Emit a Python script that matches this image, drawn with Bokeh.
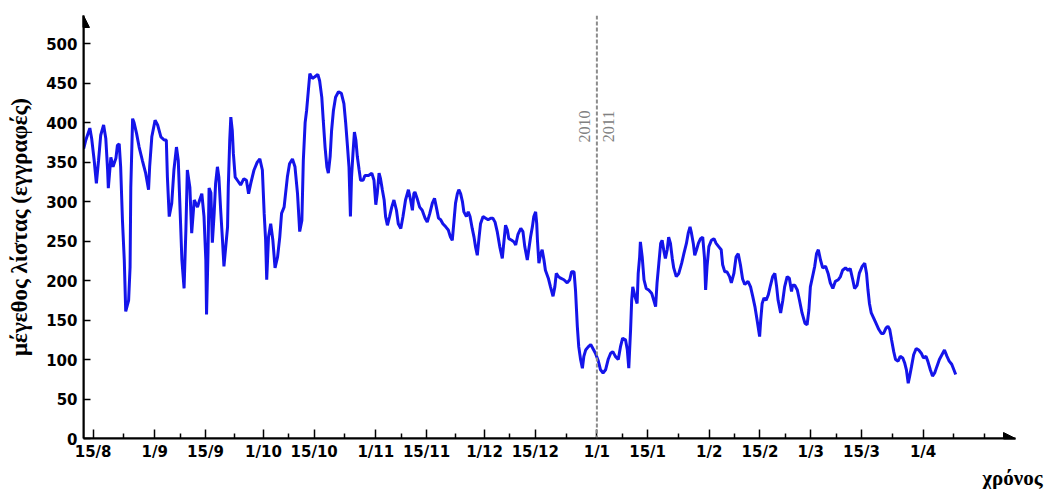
import numpy as np
import pandas as pd
from bokeh.plotting import figure
from bokeh.models import FixedTicker, Span, Label, Arrow, NormalHead, Range1d, Title
from bokeh.embed import file_html
from bokeh.resources import INLINE

START = pd.Timestamp("2010-08-15")

# days since 15 Aug 2010 and list size (records)
days = [
    -2.6, -2.0, -0.9, -0.4, 0.3, 0.9, 1.5, 2.1, 2.9, 3.5,
    4.0, 4.2, 4.9, 5.5, 6.3, 6.7, 7.2, 7.6, 8.1, 8.6,
    9.0, 9.8, 10.2, 10.4, 10.9, 11.3, 12.0, 12.7, 13.6, 14.5,
    15.3, 15.6, 16.2, 17.1, 17.8, 18.7, 19.6, 20.2, 20.5, 21.0,
    21.7, 22.3, 23.0, 23.5, 24.0, 24.5, 25.1, 25.6, 26.0, 26.7,
    27.2, 27.9, 28.8, 29.4, 30.0, 30.6, 31.1, 31.3, 31.7, 32.0,
    32.5, 32.9, 33.4, 33.8, 34.3, 34.7, 35.2, 35.7, 36.1, 36.6,
    37.1, 37.3, 37.7, 38.0, 38.4, 38.7, 39.2, 39.8, 40.7, 41.6,
    42.3, 42.9, 43.5, 44.4, 45.3, 46.0, 46.7, 47.2, 47.6, 47.9,
    48.4, 49.0, 49.6, 50.2, 50.9, 51.5, 52.0, 52.7, 53.1, 53.6,
    54.2, 55.0, 55.7, 56.4, 57.0, 57.6, 58.0, 58.5, 58.9, 59.4,
    59.8, 60.5, 61.2, 62.0, 62.5, 63.1, 63.5, 64.0, 64.5, 64.9,
    65.4, 65.8, 66.3, 66.9, 67.7, 68.5, 69.2, 69.7, 70.2, 70.6,
    71.0, 71.3, 71.7, 72.1, 72.5, 72.9, 73.4, 73.8, 74.5, 75.0,
    76.0, 76.9, 77.5, 78.0, 78.4, 78.9, 79.3, 79.8, 80.3, 80.7,
    81.2, 81.8, 82.4, 83.0, 83.7, 84.2, 84.9, 85.5, 86.2, 87.0,
    87.6, 88.1, 88.5, 88.8, 89.4, 90.1, 90.8, 91.6, 92.2, 92.9,
    93.6, 94.2, 94.7, 95.3, 95.9, 96.5, 97.3, 98.0, 98.6, 99.1,
    99.6, 100.0, 100.5, 100.9, 101.4, 101.9, 102.3, 103.0, 103.5, 104.0,
    104.6, 105.1, 105.5, 106.0, 106.5, 106.9, 107.6, 108.3, 109.0, 109.7,
    110.3, 110.9, 111.5, 112.2, 112.9, 113.3, 113.8, 114.3, 114.7, 115.5,
    116.1, 116.6, 117.2, 118.0, 118.6, 119.1, 119.8, 120.2, 120.7, 121.2,
    121.6, 122.1, 122.4, 122.6, 123.0, 123.5, 123.9, 124.4, 124.8, 125.6,
    126.2, 126.9, 127.4, 127.8, 128.4, 129.0, 129.9, 130.8, 131.5, 132.0,
    132.7, 133.1, 133.6, 134.0, 134.5, 135.0, 135.4, 135.9, 136.6, 137.3,
    137.9, 138.6, 139.4, 140.0, 140.7, 141.4, 142.1, 142.8, 143.4, 144.1,
    144.9, 145.5, 146.1, 146.9, 147.4, 147.8, 148.3, 148.6, 148.9, 149.5,
    150.1, 150.4, 150.8, 151.0, 151.5, 152.0, 152.6, 153.3, 154.1, 154.7,
    155.2, 155.6, 156.1, 156.6, 157.0, 157.5, 157.9, 158.4, 158.8, 159.3,
    159.8, 160.2, 160.9, 161.6, 162.4, 163.0, 163.7, 164.2, 164.7, 165.1,
    165.6, 166.0, 166.5, 167.0, 167.6, 168.2, 168.7, 169.0, 169.4, 169.9,
    170.6, 171.3, 171.9, 172.6, 173.3, 173.7, 174.3, 174.9, 175.6, 176.1,
    176.8, 177.4, 178.0, 178.6, 179.2, 179.8, 180.7, 181.4, 182.0, 182.6,
    183.2, 183.9, 184.2, 184.6, 185.1, 185.7, 186.3, 186.9, 187.5, 188.1,
    188.6, 189.0, 189.7, 190.3, 190.8, 191.5, 192.1, 192.7, 193.0, 193.6,
    194.3, 194.9, 195.6, 196.4, 197.0, 197.5, 197.9, 198.6, 199.1, 199.6,
    200.1, 200.7, 201.3, 202.1, 202.8, 203.4, 204.1, 204.8, 205.6, 206.2,
    206.8, 207.6, 208.3, 208.9, 209.6, 210.1, 210.8, 211.4, 212.2, 212.9,
    213.4, 213.8, 214.2, 214.7, 215.4, 216.0, 216.8, 217.5, 218.1, 218.8,
    219.3, 219.8, 220.3, 220.9, 221.4, 222.1, 222.7, 223.4, 223.9, 224.4,
    224.9, 225.3, 225.8, 226.4, 227.1, 227.8, 228.5, 229.1, 229.8, 230.3,
    231.0, 231.6, 232.2, 232.8, 233.5, 234.2, 234.9, 235.6, 236.2, 236.9,
    237.5, 238.0,
]
list_size = [
    367, 378, 393, 380, 352, 323, 352, 384, 397, 380,
    340, 317, 356, 344, 355, 371, 373, 344, 276, 226,
    161, 175, 217, 318, 405, 400, 386, 369, 352, 336,
    315, 344, 382, 403, 397, 382, 378, 378, 331, 281,
    298, 340, 369, 352, 289, 226, 190, 264, 340, 318,
    260, 302, 293, 302, 310, 281, 226, 157, 235, 317,
    311, 248, 285, 323, 344, 331, 289, 251, 218, 243,
    268, 319, 378, 407, 390, 361, 331, 327, 321, 329,
    327, 310, 323, 340, 350, 354, 340, 285, 251, 201,
    255, 272, 251, 216, 230, 255, 285, 293, 310, 331,
    348, 354, 344, 310, 262, 276, 352, 400, 415, 441,
    462, 456, 458, 461, 453, 432, 403, 369, 344, 336,
    357, 390, 415, 432, 439, 437, 424, 399, 369, 344,
    281, 331, 361, 388, 378, 357, 340, 327, 327, 333,
    333, 336, 327, 296, 310, 336, 329, 315, 302, 281,
    270, 281, 293, 302, 289, 272, 266, 281, 302, 315,
    302, 289, 310, 312, 304, 293, 289, 279, 274, 285,
    298, 304, 293, 279, 277, 272, 268, 264, 255, 251,
    277, 298, 310, 315, 310, 300, 287, 281, 287, 281,
    266, 255, 243, 232, 255, 272, 281, 279, 277, 279,
    279, 274, 262, 243, 228, 247, 270, 264, 253, 251,
    249, 245, 258, 266, 262, 243, 226, 239, 255, 268,
    281, 287, 272, 251, 222, 234, 239, 226, 213, 203,
    192, 180, 192, 209, 205, 203, 201, 197, 201, 211,
    211, 188, 142, 116, 100, 89, 104, 112, 116, 119,
    114, 108, 98, 87, 83, 87, 100, 108, 110, 104,
    100, 116, 127, 125, 112, 89, 138, 175, 192, 180,
    171, 209, 230, 249, 230, 201, 190, 188, 184, 175,
    167, 197, 222, 247, 251, 237, 228, 239, 255, 247,
    228, 216, 205, 209, 222, 234, 247, 260, 268, 260,
    247, 232, 239, 247, 253, 255, 228, 188, 218, 243,
    251, 253, 247, 243, 239, 220, 211, 211, 205, 197,
    209, 230, 234, 220, 202, 195, 199, 192, 180, 167,
    150, 129, 150, 171, 178, 175, 182, 194, 205, 209,
    192, 175, 159, 175, 192, 205, 203, 186, 194, 194,
    188, 175, 159, 146, 144, 163, 192, 207, 218, 234,
    239, 226, 216, 218, 209, 197, 190, 199, 201, 205,
    213, 216, 213, 215, 201, 190, 194, 209, 218, 222,
    209, 188, 171, 159, 152, 146, 138, 133, 133, 140,
    142, 138, 125, 110, 100, 98, 104, 102, 96, 87,
    70, 79, 91, 106, 114, 112, 108, 102, 104, 98,
    87, 79, 83, 91, 100, 106, 112, 104, 98, 94,
    87, 81,
]
assert len(days) == len(list_size), (len(days), len(list_size))

tick_dates = ["2010-08-15", "2010-09-01", "2010-09-15", "2010-10-01", "2010-10-15",
              "2010-11-01", "2010-11-15", "2010-12-01", "2010-12-15", "2011-01-01",
              "2011-01-15", "2011-02-01", "2011-02-15", "2011-03-01", "2011-03-15",
              "2011-04-01"]
tick_labels = ["15/8", "1/9", "15/9", "1/10", "15/10", "1/11", "15/11", "1/12",
               "15/12", "1/1", "15/1", "1/2", "15/2", "1/3", "15/3", "1/4"]
extra_minor_days = [237.5, 246.0]
y_ticks = [0, 50, 100, 150, 200, 250, 300, 350, 400, 450, 500]
year_change = "2011-01-01"
year_labels = ["2010", "2011"]

tick_days = [(pd.Timestamp(d) - START).days for d in tick_dates]
minor_days = [(a + b) / 2 for a, b in zip(tick_days[:-1], tick_days[1:])] + extra_minor_days
change_day = (pd.Timestamp(year_change) - START).days

X0, X1 = -2.65, 254.5
Y0, Y1 = 0, 535.6

p = figure(width=1048, height=489, x_range=Range1d(X0, X1), y_range=Range1d(Y0, Y1),
           output_backend="svg", toolbar_location=None,
           min_border_left=83, min_border_right=33, min_border_top=15, min_border_bottom=50)
p.xgrid.visible = False
p.ygrid.visible = False
p.outline_line_color = None
p.background_fill_color = "white"

LABEL_FONT = "DejaVu Sans"

xa = p.xaxis[0]
xa.ticker = FixedTicker(ticks=tick_days, minor_ticks=minor_days)
xa.major_label_overrides = {d: l for d, l in zip(tick_days, tick_labels)}
xa.axis_line_width = 2
xa.axis_line_color = "black"
xa.major_tick_in = 9
xa.major_tick_out = 0
xa.minor_tick_in = 5
xa.minor_tick_out = 0
xa.major_tick_line_width = 1.5
xa.minor_tick_line_width = 1.5
xa.major_label_text_font = LABEL_FONT
xa.major_label_text_font_style = "bold"
xa.major_label_text_font_size = "15px"
xa.major_label_text_color = "black"
xa.major_label_standoff = 4

ya = p.yaxis[0]
ya.ticker = FixedTicker(ticks=y_ticks)
ya.axis_line_width = 2
ya.axis_line_color = "black"
ya.major_tick_in = 7
ya.major_tick_out = 0
ya.minor_tick_line_color = None
ya.major_tick_line_width = 1.5
ya.major_label_text_font = LABEL_FONT
ya.major_label_text_font_style = "bold"
ya.major_label_text_font_size = "15px"
ya.major_label_text_color = "black"
ya.major_label_standoff = 6
ya.axis_label = "μέγεθος λίστας (εγγραφές)"
ya.axis_label_text_font = "Liberation Serif"
ya.axis_label_text_font_style = "bold"
ya.axis_label_text_font_size = "23px"
ya.axis_label_text_color = "black"
ya.axis_label_standoff = 11

# year divider
p.add_layout(Span(location=change_day, dimension="height", line_color="#8c8c8c",
                  line_dash="4 2", line_width=2))
for txt, off in zip(year_labels, [-12, 12]):
    p.add_layout(Label(x=change_day, y=395, x_offset=off, text=txt, angle=np.pi / 2,
                       text_align="center", text_baseline="middle",
                       text_font="Liberation Serif", text_font_size="16px",
                       text_color="#808080"))

p.line(days, list_size, line_color="#1414ea", line_width=3)

# axis arrows
p.add_layout(Arrow(end=NormalHead(size=12, fill_color="black", fill_alpha=1.0,
                                  line_color="black", line_width=1),
                   x_start=X0, y_start=0, x_end=X1, y_end=0,
                   line_color="black", line_width=2))
p.add_layout(Arrow(end=NormalHead(size=12, fill_color="black", fill_alpha=1.0,
                                  line_color="black", line_width=1),
                   x_start=X0, y_start=0, x_end=X0, y_end=Y1,
                   line_color="black", line_width=2))

# Title.offset moves a right-aligned title leftwards, so a negative value pushes it right
p.add_layout(Title(text="χρόνος", align="right", offset=-27, standoff=0,
                   text_font="Liberation Serif", text_font_style="bold",
                   text_font_size="21px", text_color="black"), "below")

open("out.html", "w").write(file_html(p, INLINE))
